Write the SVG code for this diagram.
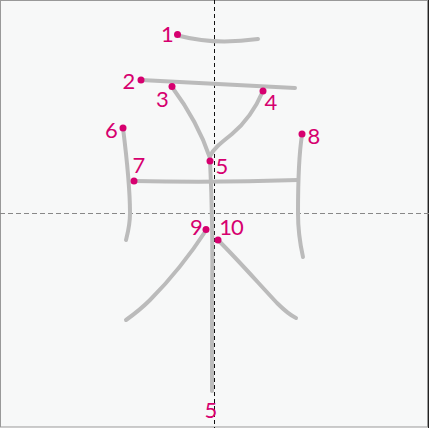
<svg xmlns="http://www.w3.org/2000/svg" width="429" height="428" viewBox="0 0 429 428">
<style>
.stroke{fill:none;stroke:#bbbbbb;stroke-width:4;stroke-linecap:round;stroke-linejoin:round}
.dot{fill:#d6006f}
.num{fill:#d6006f;font-family:Lato,"DejaVu Sans",sans-serif;font-size:22px;text-anchor:middle}
</style>
<rect x="0.5" y="0.5" width="427" height="426.5" fill="#f7f8f8" stroke="#999999" stroke-width="1"/>
<line x1="428.5" y1="0" x2="428.5" y2="428" stroke="#222" stroke-width="1"/>
<line x1="0" y1="213.5" x2="429" y2="213.5" stroke="#888888" stroke-width="1" stroke-dasharray="5,3"/>
<line x1="214.5" y1="0" x2="214.5" y2="428" stroke="#111111" stroke-width="1" stroke-dasharray="4,3"/>
<g id="connectors">
<path class="stroke" d="M180,36 Q214,45 258,39"/>
<path class="stroke" d="M141,80 L295,88"/>
<path class="stroke" d="M172,87 Q198,122 210,158"/>
<path class="stroke" d="M263,91 C254,112 244,124 232,134 C222,142 214,148 210,156"/>
<path class="stroke" d="M210,160 C212,200 213,240 212,300 C212,340 212,370 212,391"/>
<path class="stroke" d="M123,128 C127,160 130,190 130,213 C130,225 128,232 126,240"/>
<path class="stroke" d="M134,181 Q214,183 298,180"/>
<path class="stroke" d="M302,135 C298,160 298,190 298,213 C298,235 301,248 303,257"/>
<path class="stroke" d="M207,229 C190,255 170,280 150,300 C140,310 133,315 126,320"/>
<path class="stroke" d="M218,240 C240,262 260,285 277,303 C285,311 290,315 296,318"/>
</g>
<g id="n1"><circle class="dot" cx="177.5" cy="34.5" r="3.5"/><text class="num" x="167.5" y="42">1</text></g>
<g id="n2"><circle class="dot" cx="141" cy="80" r="3.5"/><text class="num" x="129" y="89">2</text></g>
<g id="n3"><circle class="dot" cx="172" cy="86.5" r="3.5"/><text class="num" x="162.5" y="107">3</text></g>
<g id="n4"><circle class="dot" cx="263" cy="91" r="3.5"/><text class="num" x="271" y="110">4</text></g>
<g id="n5"><circle class="dot" cx="210" cy="161" r="3.5"/><text class="num" x="222" y="174">5</text><text class="num" x="211" y="418">5</text></g>
<g id="n6"><circle class="dot" cx="123" cy="128" r="3.5"/><text class="num" x="111.5" y="138">6</text></g>
<g id="n7"><circle class="dot" cx="134" cy="181" r="3.5"/><text class="num" x="139" y="173">7</text></g>
<g id="n8"><circle class="dot" cx="302" cy="134" r="3.5"/><text class="num" x="314" y="144">8</text></g>
<g id="n9"><circle class="dot" cx="206" cy="229.5" r="3.5"/><text class="num" x="196.5" y="235">9</text></g>
<g id="n10"><circle class="dot" cx="218" cy="240" r="3.5"/><text class="num" x="231" y="235" letter-spacing="-1">10</text></g>
</svg>
